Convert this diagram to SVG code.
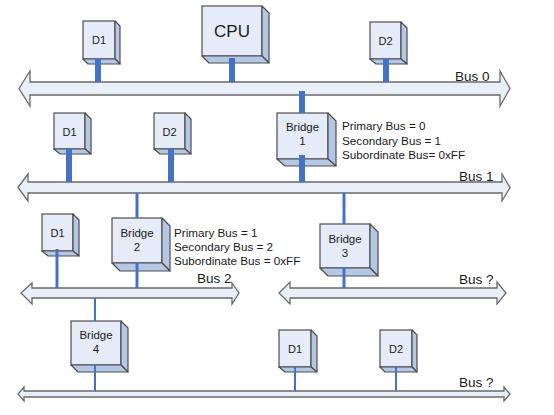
<svg xmlns="http://www.w3.org/2000/svg" width="554" height="415" viewBox="0 0 554 415">
<style>
.front{fill:#e6ecf7;stroke:#4d4d4d;stroke-width:1.2}
.side{fill:#b4c8e6;stroke:#4d4d4d;stroke-width:1.2;stroke-linejoin:round}
.bus{fill:#e9eff8;stroke:#6a6a6a;stroke-width:1.3;stroke-linejoin:miter}
.thick{stroke:#4472c4;stroke-width:6}
.thin{stroke:#4472c4;stroke-width:3}
.hair{stroke:#4472c4;stroke-width:2}
text{font-family:"Liberation Sans",Arial,sans-serif;fill:#1a1a1a}
.lbl{font-size:11.5px;text-anchor:middle}
.dev{font-size:11px;text-anchor:middle}
.info{font-size:11.7px}
.busl{font-size:13.5px}
</style>
<rect width="554" height="415" fill="#fff"/>
<g id="buses">
<path id="bus0" class="bus" d="M19,88.5 L30,71 L30,82 L500,82 L500,71 L510,88.5 L500,106 L500,95 L30,95 L30,106 Z"/>
<path id="bus1" class="bus" d="M18,187.5 L28,174 L28,182 L502,182 L502,174 L510,187.5 L502,201 L502,193 L28,193 L28,201 Z"/>
<path id="bus2" class="bus" d="M21,293 L32,283 L32,288 L232,288 L232,283 L239,293 L232,304 L232,298 L32,298 L32,304 Z"/>
<path id="bus3" class="bus" d="M279,293 L290,282 L290,288 L497,288 L497,282 L506,293 L497,304 L497,298 L290,298 L290,304 Z"/>
<path id="bus4" class="bus" d="M18,394 L24,387 L24,391 L504,391 L504,387 L510,394 L504,401 L504,397 L24,397 L24,401 Z"/>
<text class="busl" x="455" y="81">Bus 0</text>
<text class="busl" x="459" y="181">Bus 1</text>
<text class="busl" x="197" y="283">Bus 2</text>
<text class="busl" x="459" y="284">Bus ?</text>
<text class="busl" x="459" y="387">Bus ?</text>
</g>
<g id="d1a">
<rect class="front" x="83" y="21" width="32" height="38"/>
<polygon class="side" points="115,21 120,26 120,64 115,59"/>
<polygon class="side" points="83,59 115,59 120,64 88,64"/>
<text class="dev" x="99" y="44">D1</text>
</g>
<g id="cpu">
<rect class="front" x="202" y="6" width="60" height="50"/>
<polygon class="side" points="262,6 269,13 269,63 262,56"/>
<polygon class="side" points="202,56 262,56 269,63 209,63"/>
<text x="232" y="37" font-size="17" text-anchor="middle">CPU</text>
</g>
<g id="d2a">
<rect class="front" x="370" y="22" width="31" height="37"/>
<polygon class="side" points="401,22 407,28 407,64 401,59"/>
<polygon class="side" points="370,59 401,59 407,64 376,64"/>
<text class="dev" x="385.5" y="45">D2</text>
</g>
<g id="bridge1">
<rect class="front" x="277" y="113" width="51" height="46"/>
<polygon class="side" points="328,113 336,121 336,166 328,159"/>
<polygon class="side" points="277,159 328,159 336,166 285,166"/>
<text class="lbl" x="302.5" y="131">Bridge</text>
<text class="lbl" x="302.5" y="145">1</text>
<text class="info" x="342" y="130">Primary Bus = 0</text>
<text class="info" x="342" y="145">Secondary Bus = 1</text>
<text class="info" x="342" y="159">Subordinate Bus= 0xFF</text>
</g>
<g id="d1b">
<rect class="front" x="54" y="113" width="31" height="36"/>
<polygon class="side" points="85,113 91,119 91,154 85,149"/>
<polygon class="side" points="54,149 85,149 91,154 60,154"/>
<text class="dev" x="69.5" y="136">D1</text>
</g>
<g id="d2b">
<rect class="front" x="154" y="113" width="31" height="36"/>
<polygon class="side" points="185,113 191,119 191,154 185,149"/>
<polygon class="side" points="154,149 185,149 191,154 160,154"/>
<text class="dev" x="169.5" y="136">D2</text>
</g>
<g id="d1c">
<rect class="front" x="42" y="214" width="31" height="37"/>
<polygon class="side" points="73,214 79,220 79,256 73,251"/>
<polygon class="side" points="42,251 73,251 79,256 48,256"/>
<text class="dev" x="57.5" y="237">D1</text>
</g>
<g id="bridge2">
<rect class="front" x="112" y="218" width="50" height="45"/>
<polygon class="side" points="162,218 170,226 170,271 162,263"/>
<polygon class="side" points="112,263 162,263 170,271 120,271"/>
<text class="lbl" x="137" y="237">Bridge</text>
<text class="lbl" x="137" y="251">2</text>
<text class="info" x="174" y="237">Primary Bus = 1</text>
<text class="info" x="174" y="251">Secondary Bus = 2</text>
<text class="info" x="174" y="265">Subordinate Bus = 0xFF</text>
</g>
<g id="bridge3">
<rect class="front" x="320" y="224" width="50" height="44"/>
<polygon class="side" points="370,224 378,232 378,276 370,268"/>
<polygon class="side" points="320,268 370,268 378,276 328,276"/>
<text class="lbl" x="345" y="243">Bridge</text>
<text class="lbl" x="345" y="257">3</text>
</g>
<g id="bridge4">
<rect class="front" x="71" y="321" width="50" height="44"/>
<polygon class="side" points="121,321 128,328 128,372 121,365"/>
<polygon class="side" points="71,365 121,365 128,372 78,372"/>
<text class="lbl" x="96" y="339">Bridge</text>
<text class="lbl" x="96" y="353">4</text>
</g>
<g id="d1d">
<rect class="front" x="279" y="330" width="32" height="37"/>
<polygon class="side" points="311,330 317,336 317,372 311,367"/>
<polygon class="side" points="279,367 311,367 317,372 285,372"/>
<text class="dev" x="295" y="353">D1</text>
</g>
<g id="d2d">
<rect class="front" x="380" y="330" width="32" height="37"/>
<polygon class="side" points="412,330 417,335 417,372 412,367"/>
<polygon class="side" points="380,367 412,367 417,372 385,372"/>
<text class="dev" x="396" y="353">D2</text>
</g>
<g id="connectors">
<line class="thick" x1="98" y1="58" x2="98" y2="82"/>
<line class="thick" x1="232" y1="58" x2="232" y2="82"/>
<line class="thick" x1="386" y1="58" x2="386" y2="82"/>
<line class="thick" x1="302" y1="91" x2="302" y2="113"/>
<line class="thick" x1="302" y1="155" x2="302" y2="182"/>
<line class="thick" x1="69" y1="148" x2="69" y2="182"/>
<line class="thick" x1="171" y1="148" x2="171" y2="182"/>
<line class="thin" x1="137" y1="193" x2="137" y2="218"/>
<line class="thin" x1="137" y1="262" x2="137" y2="288"/>
<line class="thin" x1="344" y1="193" x2="344" y2="224"/>
<line class="thin" x1="344" y1="267" x2="344" y2="288"/>
<line class="thin" x1="57" y1="249" x2="57" y2="288"/>
<line class="hair" x1="95" y1="298" x2="95" y2="321"/>
<line class="hair" x1="95" y1="364" x2="95" y2="391"/>
<line class="hair" x1="295" y1="366" x2="295" y2="391"/>
<line class="hair" x1="396" y1="366" x2="396" y2="391"/>
</g>
</svg>
